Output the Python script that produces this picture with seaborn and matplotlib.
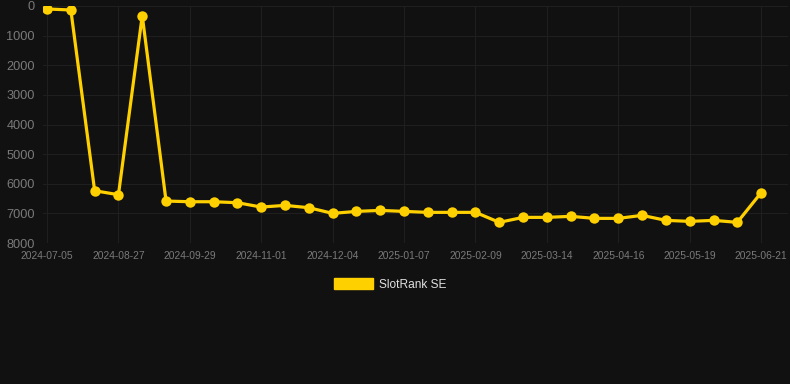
import matplotlib
matplotlib.use("Agg")
import matplotlib.pyplot as plt
import seaborn as sns
import pandas as pd
from matplotlib.patches import Patch

# Data
tick_labels = ["2024-07-05", "2024-08-27", "2024-09-29", "2024-11-01", "2024-12-04",
               "2025-01-07", "2025-02-09", "2025-03-14", "2025-04-16", "2025-05-19",
               "2025-06-21"]
ranks = [100, 135, 6236, 6370, 326, 6584, 6607, 6607, 6640, 6787, 6730, 6809,
         7000, 6933, 6900, 6933, 6966, 6966, 6966, 7303, 7135, 7135, 7100, 7169,
         7169, 7067, 7236, 7270, 7236, 7303, 6303]
series_name = "SlotRank SE"

df = pd.DataFrame({"idx": list(range(len(ranks))), "rank": ranks})

bg = "#111111"
gold = "#FFD000"
grid_c = "#1f1f1f"
text_c = "#7a7a7a"

sns.set_theme(style="dark")
plt.rcParams['font.family'] = ['Liberation Sans', 'DejaVu Sans']

fig = plt.figure(figsize=(7.9, 3.84), dpi=100, facecolor=bg)
ax = fig.add_axes([43 / 790, 1 - 243 / 384, (788 - 43) / 790, (243 - 6) / 384])
ax.set_facecolor(bg)

sns.lineplot(data=df, x="idx", y="rank", ax=ax, color=gold, linewidth=2.3,
             marker="o", markersize=7.5, markeredgecolor=gold, markeredgewidth=0,
             legend=False)

ax.set_ylim(8000, 0)
ax.set_xlim(-0.17, 31.13)
ax.set_yticks(range(0, 8001, 1000))
ax.set_yticklabels([str(v) for v in range(0, 8001, 1000)])
ax.set_xticks(list(range(0, len(ranks), 3)))
ax.set_xticklabels(tick_labels)

ax.grid(True, color=grid_c, linewidth=0.8)
ax.set_axisbelow(True)
for s in ax.spines.values():
    s.set_visible(False)
ax.set_xlabel("")
ax.set_ylabel("")
ax.tick_params(axis="y", colors=text_c, labelsize=9.2, length=0, pad=6)
ax.tick_params(axis="x", colors=text_c, labelsize=7.4, length=0, pad=6)
for lbl in ax.get_yticklabels() + ax.get_xticklabels():
    lbl.set_color(text_c)

handle = Patch(facecolor=gold, edgecolor=gold)
leg = fig.legend([handle], [series_name], loc="center", bbox_to_anchor=(390 / 790, 1 - 284.5 / 384),
                 frameon=False, fontsize=8.6, handlelength=3.3, handleheight=0.95,
                 handletextpad=0.5)
for t in leg.get_texts():
    t.set_color("#e0e0e0")

fig.savefig("out.png", dpi=100, facecolor=bg)
